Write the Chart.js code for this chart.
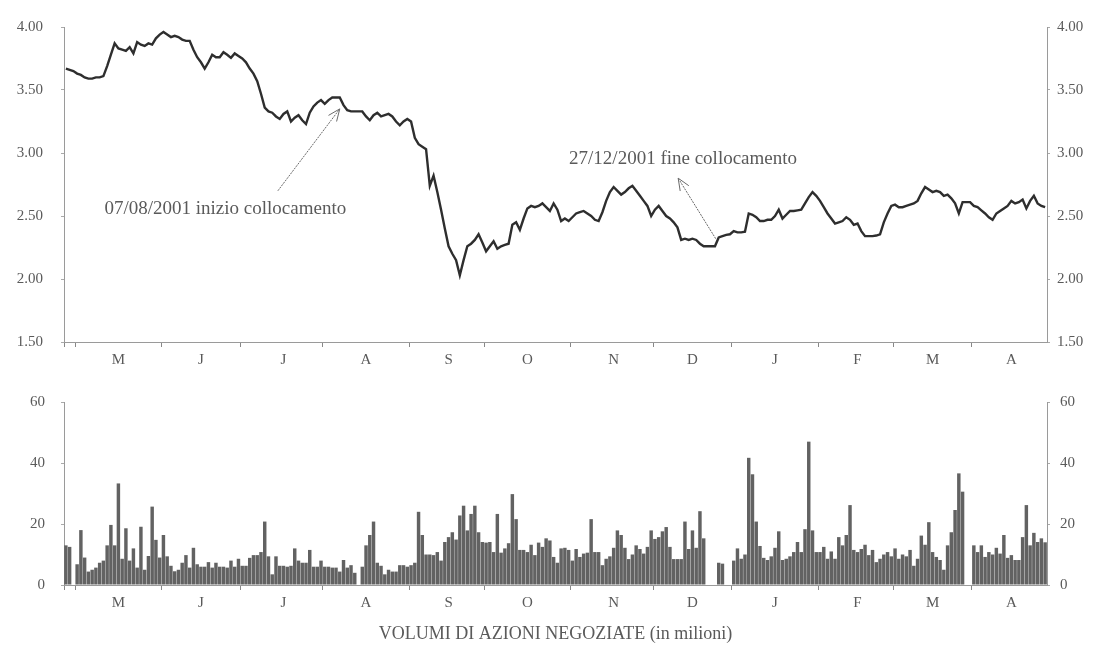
<!DOCTYPE html>
<html><head><meta charset="utf-8">
<script src="https://cdn.jsdelivr.net/npm/chart.js@4.4.1/dist/chart.umd.min.js"></script>
<style>
html,body{margin:0;padding:0;background:#fff;}
#wrap{position:relative;width:1098px;height:648px;overflow:hidden;background:#fff;}
#c1{position:absolute;left:0;top:0;}
#c2{position:absolute;left:0;top:372px;}
</style></head><body>
<div id="wrap"><canvas id="c1" width="1098" height="372"></canvas><canvas id="c2" width="1098" height="276"></canvas></div>
<script>
// ---- data ----
const monthLetters = ['M','J','J','A','S','O','N','D','J','F','M','A'];
const leadDays = 3; // trading days at end of April 2001
const tradingDaysPerMonth = [23,21,22,23,20,23,22,21,23,20,21,20];
const priceTicks = [1.5, 2.0, 2.5, 3.0, 3.5, 4.0];
const volumeTicks = [0, 20, 40, 60];

const price = [
3.67,3.66,3.65,3.63,3.62,3.60,3.59,3.59,3.60,3.60,
3.61,3.69,3.78,3.87,3.83,3.82,3.81,3.84,3.79,3.88,
3.86,3.85,3.87,3.86,3.91,3.94,3.96,3.94,3.92,3.93,
3.92,3.90,3.89,3.89,3.82,3.76,3.72,3.67,3.72,3.78,
3.76,3.76,3.80,3.78,3.755,3.79,3.77,3.75,3.72,3.67,
3.63,3.57,3.47,3.36,3.33,3.32,3.29,3.27,3.31,3.33,
3.25,3.28,3.30,3.26,3.23,3.32,3.37,3.40,3.42,3.39,
3.42,3.44,3.44,3.44,3.38,3.34,3.33,3.33,3.33,3.33,
3.29,3.26,3.30,3.32,3.29,3.30,3.31,3.29,3.25,3.22,
3.25,3.27,3.25,3.12,3.07,3.05,3.03,2.74,2.82,2.69,
2.55,2.40,2.26,2.20,2.15,2.03,2.15,2.26,2.28,2.31,
2.355,2.29,2.22,2.26,2.30,2.24,2.26,2.27,2.28,2.43,
2.45,2.39,2.48,2.56,2.58,2.57,2.58,2.60,2.57,2.54,
2.60,2.55,2.46,2.48,2.46,2.49,2.52,2.53,2.54,2.52,
2.50,2.47,2.46,2.53,2.62,2.69,2.73,2.70,2.67,2.69,
2.72,2.74,2.70,2.66,2.62,2.58,2.50,2.55,2.58,2.54,
2.50,2.48,2.45,2.41,2.31,2.32,2.31,2.32,2.31,2.28,
2.26,2.26,2.26,2.26,2.33,2.34,2.35,2.355,2.38,2.37,
2.37,2.375,2.52,2.51,2.49,2.46,2.46,2.47,2.47,2.50,
2.55,2.48,2.51,2.54,2.54,2.545,2.55,2.60,2.65,2.69,
2.66,2.62,2.57,2.52,2.48,2.44,2.45,2.46,2.49,2.47,
2.43,2.44,2.38,2.34,2.34,2.34,2.345,2.355,2.45,2.52,
2.58,2.59,2.57,2.57,2.58,2.59,2.60,2.62,2.68,2.73,
2.71,2.69,2.70,2.69,2.66,2.67,2.64,2.60,2.52,2.61,
2.61,2.61,2.58,2.57,2.545,2.52,2.49,2.47,2.52,2.54,
2.56,2.58,2.62,2.60,2.61,2.63,2.56,2.62,2.66,2.60,
2.58,2.57
];

const volume = [
13,12.5,null,6.8,18,9,4.4,5,5.7,7.3,
8,13,19.7,13,33.3,8.6,18.6,8,12,5.7,
19.1,5,9.5,25.7,14.8,9,16.4,9.4,6.3,4.5,
5,7.3,9.8,5.7,12.2,6.8,6,6,7.5,5.7,
7.3,6,6,5.7,8,6,8.6,6.3,6.3,8.9,
9.8,9.8,10.8,20.8,9.4,3.5,9.4,6.3,6.3,6,
6.3,12,8,7.3,7.3,11.5,6,6,8,6,
6,5.7,5.7,4.4,8.2,5.7,6.5,4,null,6,
13,16.4,20.8,7.3,6.3,3.5,5,4.4,4.4,6.5,
6.5,6,6.5,7.3,24,16.4,10,10,9.8,10.8,
8,14.1,15.7,17.3,14.9,22.8,26,17.9,23.3,26,
17.3,14.1,13.9,14.1,10.8,23.3,10.6,12,13.7,29.8,
21.6,11.5,11.5,10.8,13.2,9.8,13.9,12.5,15.3,14.6,
9.2,7.3,12,12.2,11.5,8,11.8,9.2,10.3,10.6,
21.6,10.8,10.8,6.5,8.6,9.4,12.2,17.9,16.4,12.2,
8.5,10,13,11.8,10.3,12.5,17.9,15.1,15.7,17.6,
19,12.5,8.5,8.5,8.5,20.8,11.8,17.9,12.2,24.2,
15.3,null,null,null,7.3,7,null,null,8,12,
8.6,10,41.7,36.3,20.8,12.8,8.9,8.2,9.4,12.2,
17.6,8.2,8.6,9.4,10.8,14.1,10.8,18.3,47,17.9,
10.8,10.8,12.5,8.6,11,8.6,15.7,13,16.4,26.2,
11.5,10.8,11.8,13.2,9.8,11.5,7.5,8.6,10,10.8,
9.4,12,8.6,10,9.4,11.5,6.3,8.6,16.2,13.2,
20.6,10.8,9.2,8.2,5,13,17.3,24.6,36.6,30.6,
null,null,13,10.8,13,9.2,10.8,10,12.2,10.3,
16.4,8.9,9.8,8.2,8.2,15.7,26.2,13,17.1,14.1,
15.3,14
];

const notes = [
  {text:'07/08/2001 inizio collocamento', textDay:42.5, textPrice:2.555, fromDay:56.5, fromPrice:2.70, toDay:73, toPrice:3.35},
  {text:'27/12/2001 fine collocamento', textDay:164.5, textPrice:2.955, fromDay:173.2, fromPrice:2.32, toDay:163.2, toPrice:2.80}
];

// ---- derived structure ----
const labels = [];
const monthStarts = new Set([0]);
const monthCenters = new Map();
for (let i = 0; i < leadDays; i++) labels.push('apr-' + (i + 1));
tradingDaysPerMonth.forEach((n, m) => {
  const start = labels.length;
  monthStarts.add(start);
  monthCenters.set(start + Math.floor(n / 2), monthLetters[m]);
  for (let d = 0; d < n; d++) labels.push(m + '-' + (d + 1));
});

const FONT = "'Liberation Serif','DejaVu Serif',serif";
const TXT = '#5a5a5a';
const AXIS = '#9a9a9a';

function xScale(height) {
  return {
    type: 'category', offset: true,
    afterFit: s => { s.height = height; },
    border: {display: true, color: AXIS, dash: [1, 2]},
    grid: {offset: true, drawOnChartArea: false, drawTicks: true, tickLength: 5,
      color: ctx => monthStarts.has(ctx.index) ? '#888' : 'rgba(0,0,0,0)'},
    ticks: {autoSkip: false, maxRotation: 0, minRotation: 0, padding: 4,
      color: TXT, font: {family: FONT, size: 15},
      callback: (v, i) => monthCenters.get(i) || ''}
  };
}
function yScale(pos, min, max, step, width, pad, fmt, ticksArr) {
  return {
    position: pos, min: min, max: max,
    afterFit: s => { s.width = width; },
    afterBuildTicks: s => { s.ticks = ticksArr.map(v => ({value: v})); },
    border: {display: true, color: AXIS, dash: [1, 2]},
    grid: {drawOnChartArea: false, drawTicks: true, tickLength: 3, color: '#aaa'},
    ticks: {stepSize: step, padding: pad, color: TXT, font: {family: FONT, size: 15}, callback: fmt}
  };
}

const notesPlugin = {
  id: 'notes',
  afterDatasetsDraw(chart) {
    const c = chart.ctx, xs = chart.scales.x, ys = chart.scales.y;
    c.save();
    notes.forEach(n => {
      const x1 = xs.getPixelForValue(n.fromDay), y1 = ys.getPixelForValue(n.fromPrice);
      const x2 = xs.getPixelForValue(n.toDay), y2 = ys.getPixelForValue(n.toPrice);
      c.strokeStyle = '#6a6a6a'; c.lineWidth = 1; c.setLineDash([2, 1]);
      c.beginPath(); c.moveTo(x1, y1); c.lineTo(x2, y2); c.stroke();
      const a = Math.atan2(y2 - y1, x2 - x1), L = 13;
      c.setLineDash([]);
      c.beginPath();
      c.moveTo(x2 - L * Math.cos(a - 0.4), y2 - L * Math.sin(a - 0.4)); c.lineTo(x2, y2);
      c.lineTo(x2 - L * Math.cos(a + 0.4), y2 - L * Math.sin(a + 0.4));
      c.stroke();
      c.fillStyle = TXT; c.font = '19px ' + FONT; c.textAlign = 'center'; c.textBaseline = 'middle';
      c.fillText(n.text, xs.getPixelForValue(n.textDay), ys.getPixelForValue(n.textPrice));
    });
    c.restore();
  }
};

const fmtPrice = v => Number(v).toFixed(2);
const fmtVol = v => String(v);

new Chart(document.getElementById('c1'), {
  type: 'line',
  data: {labels: labels, datasets: [{data: price, borderColor: '#2e2e2e', borderWidth: 2.4,
    pointRadius: 0, tension: 0, fill: false}]},
  options: {
    responsive: false, animation: false, events: [],
    layout: {padding: {top: 22, left: 0, right: 0, bottom: 0}},
    plugins: {legend: {display: false}, tooltip: {enabled: false}},
    scales: {
      x: xScale(30),
      y: yScale('left', 1.5, 4.0, 0.5, 64, 18, fmtPrice, priceTicks),
      y2: yScale('right', 1.5, 4.0, 0.5, 51, 7, fmtPrice, priceTicks)
    }
  },
  plugins: [notesPlugin]
});

new Chart(document.getElementById('c2'), {
  type: 'bar',
  data: {labels: labels, datasets: [{data: volume, backgroundColor: '#626262',
    barPercentage: 0.92, categoryPercentage: 1.0, borderWidth: 0}]},
  options: {
    responsive: false, animation: false, events: [],
    layout: {padding: {top: 30, left: 0, right: 0, bottom: 0}},
    plugins: {legend: {display: false}, tooltip: {enabled: false}},
    scales: {
      x: Object.assign(xScale(63), {title: {display: true, text: 'VOLUMI DI AZIONI NEGOZIATE (in milioni)',
        color: TXT, font: {family: FONT, size: 18}, padding: {top: 4, bottom: 3}}}),
      y: yScale('left', 0, 60, 20, 64, 16, fmtVol, volumeTicks),
      y2: yScale('right', 0, 60, 20, 51, 10, fmtVol, volumeTicks)
    }
  }
});
</script>
</body></html>
